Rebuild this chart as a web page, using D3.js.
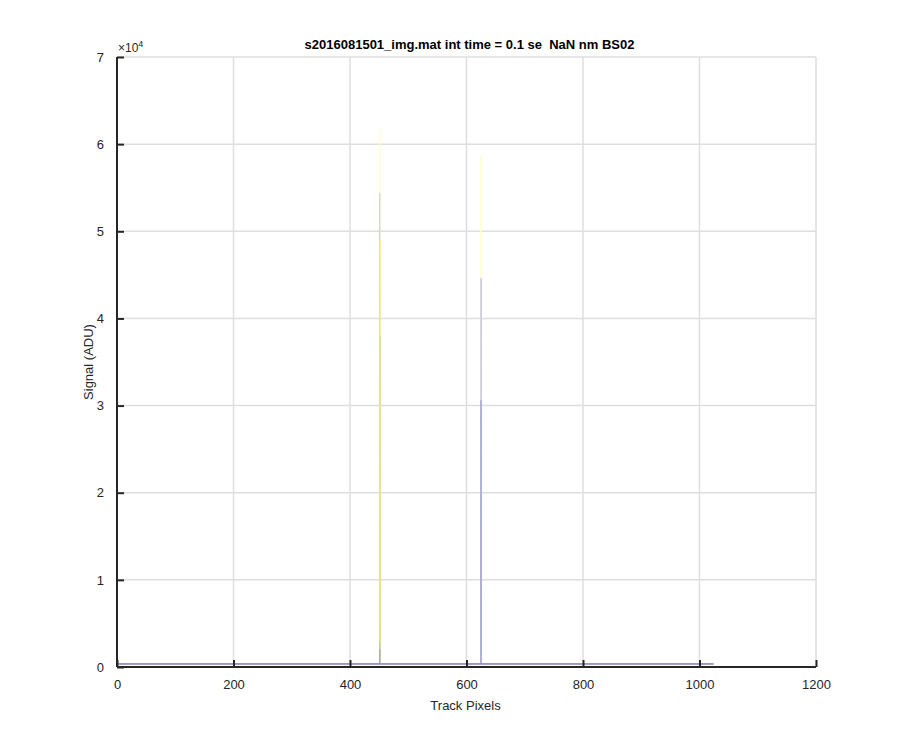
<!DOCTYPE html>
<html>
<head>
<meta charset="utf-8">
<script src="https://cdn.jsdelivr.net/npm/d3@7"></script>
<style>
  body { margin: 0; background: #fff; }
  svg { font-family: "Liberation Sans", Arial, Helvetica, sans-serif; }
</style>
</head>
<body>
<svg id="chart" width="900" height="750"></svg>
<script>
// ---- data ----
const titleText = "s2016081501_img.mat int time = 0.1 se  NaN nm BS02";
const xLabel = "Track Pixels";
const yLabel = "Signal (ADU)";
const xTicks = [0, 200, 400, 600, 800, 1000, 1200];
const yTicks = [0, 10000, 20000, 30000, 40000, 50000, 60000, 70000];
const yTickLabels = ["0", "1", "2", "3", "4", "5", "6", "7"];
const trackStart = 1;
const trackEnd = 1024;
const baseline = 350;
const spikePixels = [451, 625];
// peak heights of each trace at the two spike pixels
const seriesNames = ["t1", "t2", "t3", "t4", "t5", "t6"];
const seriesColors = ["#ffffc8", "#d4d4c4", "#b8b8c0", "#f0f040", "#c4c4e6", "#a8a8dc"];
const peaksAt451 = [61600, 54400, 38000, 49000, 3000, 2000];
const peaksAt625 = [58600, 30600, 16900, 9000, 44600, 30600];

// ---- layout ----
const svg = d3.select("#chart");
const L = 117, R = 816, T = 57, B = 667;
const x = d3.scaleLinear().domain([0, 1200]).range([L, R]);
const y = d3.scaleLinear().domain([0, 70000]).range([B, T]);

// grid
const g = svg.append("g");
g.selectAll(".vg").data(xTicks).join("line")
  .attr("x1", d => x(d)).attr("x2", d => x(d))
  .attr("y1", T).attr("y2", B)
  .attr("stroke", "#dedede").attr("stroke-width", 1.5);
g.selectAll(".hg").data(yTicks).join("line")
  .attr("x1", L).attr("x2", R)
  .attr("y1", d => y(d)).attr("y2", d => y(d))
  .attr("stroke", "#dedede").attr("stroke-width", 1.5);

// series
function buildSeries(i) {
  const pts = [[trackStart, baseline]];
  spikePixels.forEach((p, k) => {
    const h = k === 0 ? peaksAt451[i] : peaksAt625[i];
    pts.push([p - 0.4, baseline], [p, h], [p + 0.4, baseline]);
  });
  pts.push([trackEnd, baseline]);
  return pts;
}
const line = d3.line().x(d => x(d[0])).y(d => y(d[1]));
seriesNames.forEach((n, i) => {
  svg.append("path")
    .attr("d", line(buildSeries(i)))
    .attr("fill", "none")
    .attr("stroke", seriesColors[i])
    .attr("stroke-width", 1);
});
// baseline trace drawn on top
svg.append("path")
  .attr("d", line([[trackStart, baseline], [trackEnd, baseline]]))
  .attr("fill", "none").attr("stroke", "#7c7cc4").attr("stroke-width", 1);

// axes
const xAxis = d3.axisBottom(x).tickValues(xTicks).tickSize(-7).tickPadding(13).tickFormat(d3.format("d"));
const yAxis = d3.axisLeft(y).tickValues(yTicks).tickSize(-7).tickPadding(13)
  .tickFormat((d, i) => yTickLabels[i]);

const gx = svg.append("g").attr("transform", `translate(0,${B})`).call(xAxis);
const gy = svg.append("g").attr("transform", `translate(${L},0)`).call(yAxis);
[gx, gy].forEach(a => {
  a.select(".domain").attr("stroke", "#262626").attr("stroke-width", 2);
  a.selectAll(".tick line").attr("stroke", "#262626").attr("stroke-width", 2);
  a.selectAll(".tick text").attr("fill", "#262626").attr("font-size", 13);
});
gx.select(".domain").attr("d", `M${L},0H${R}`);
gy.select(".domain").attr("d", `M0,${B}V${T}`);

// exponent
const ex = svg.append("text").attr("x", 118).attr("y", 52).attr("fill", "#262626").attr("font-size", 12);
ex.append("tspan").text("\u00d710");
ex.append("tspan").attr("font-size", 9).attr("dy", -5).text("4");

// labels
svg.append("text").attr("x", (L + R) / 2 + 3).attr("y", 49)
  .attr("text-anchor", "middle").attr("font-weight", "bold").attr("font-size", 13)
  .attr("fill", "#000").style("white-space", "pre").text(titleText);
svg.append("text").attr("x", (L + R) / 2 - 1).attr("y", 710)
  .attr("text-anchor", "middle").attr("font-size", 13).attr("fill", "#262626").text(xLabel);
svg.append("text").attr("transform", `translate(93,${(T + B) / 2}) rotate(-90)`)
  .attr("text-anchor", "middle").attr("font-size", 13).attr("fill", "#262626").text(yLabel);
</script>
</body>
</html>
